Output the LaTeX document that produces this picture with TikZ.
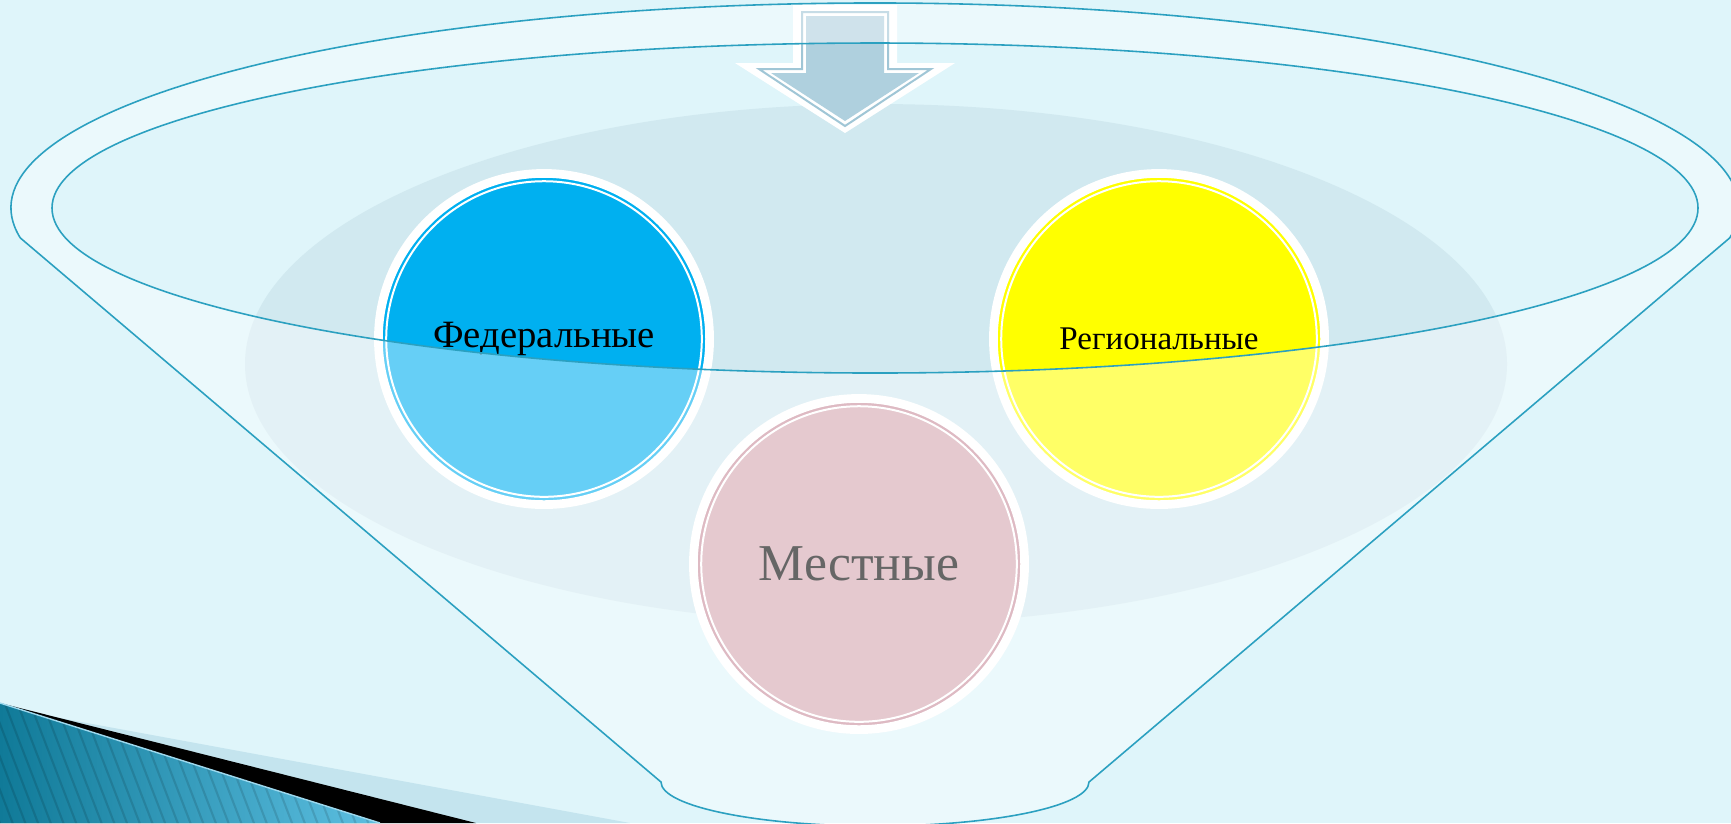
\documentclass[tikz,border=0pt]{standalone}
\usepackage{fontspec}
\setmainfont{Liberation Serif}
\usetikzlibrary{positioning}
\definecolor{bgcyan}{RGB}{223,245,250}
\definecolor{bigell}{RGB}{209,233,240}
\definecolor{fedblue}{RGB}{0,176,240}
\definecolor{regyellow}{RGB}{255,255,0}
\definecolor{pinkfill}{RGB}{213,165,175}
\definecolor{pinkring}{RGB}{200,140,155}
\definecolor{funnelline}{RGB}{43,160,192}
\definecolor{arrowfill}{RGB}{175,208,222}
\definecolor{arrowline}{RGB}{160,198,214}
\definecolor{wedgelight}{RGB}{196,228,238}
\definecolor{tealdark}{RGB}{16,122,152}
\definecolor{teallight}{RGB}{94,192,226}
\tikzset{
  bubble/.style 2 args={circle, minimum size=3.31cm, inner sep=0pt, draw=white, line width=0.087cm, fill=#1,
    path picture={\draw[white, line width=0.02cm, fill=#2] (path picture bounding box.center) circle [radius=1.577cm];}},
  funnel/.style={draw=funnelline, line width=0.45pt},
  stripe/.style={black, opacity=0.12, line width=0.6pt},
}

\begin{document}
\begin{tikzpicture}[x=0.01cm, y=-0.01cm]
	\useasboundingbox (0,0) rectangle (1731,823);
	\clip (0,0) rectangle (1731,823);
	\fill[bgcyan] (0,0) rectangle (1731,823);
	% corner wedges
	\fill[wedgelight] (0,707) -- (630,823) -- (0,823) -- cycle;
	\fill[black] (0,703) -- (476,823) -- (0,823) -- cycle;
	\begin{scope}
		\clip (0,703) -- (380,823) -- (0,823) -- cycle;
		\fill[left color=tealdark, right color=teallight] (0,700) rectangle (385,823);
		\foreach \s in {-60,-47.3,...,400}
			\draw[stripe] (\s,700) -- ++(48,125);
	\end{scope}
	\draw[teallight!60!white, line width=0.4pt] (0,703) -- (380,823);
	% back ellipse
	\fill[bigell] (876,364) ellipse [x radius=631, y radius=260];
	% arrow
	\fill[white] (793,5) -- (897,5) -- (897,63) -- (955,63) -- (845,133) -- (735,63) -- (793,63) -- cycle;
	\draw[arrowline, line width=0.02cm, fill=white] (802,12) -- (888,12) -- (888,69) -- (931,69) -- (845,126) -- (759,69) -- (802,69) -- cycle;
	\fill[arrowfill] (806,16) -- (884,16) -- (884,73) -- (919,73) -- (845,121) -- (771,73) -- (806,73) -- cycle;
	% circles
	\node[bubble={fedblue}{fedblue}, font=\fontsize{11pt}{13pt}\selectfont] (fed) at (544,339) {Федеральные};
	\node[bubble={regyellow}{regyellow}, font=\fontsize{9.4pt}{11pt}\selectfont] (reg) at (1159,339) {Региональные};
	\node[bubble={pinkring}{pinkfill}, font=\fontsize{14.7pt}{17pt}\selectfont] (loc) at (859,564) {Местные};
	% funnel
	\path[fill=white, fill opacity=0.4, even odd rule, funnel] (20.3,237.9)
		arc[start angle=171.6, end angle=368.4, x radius=864, y radius=205] -- (1089,782)
		arc[start angle=0, end angle=180, x radius=214, y radius=44] -- cycle
		(875,208) ellipse [x radius=823, y radius=165];
\end{tikzpicture}
\end{document}
